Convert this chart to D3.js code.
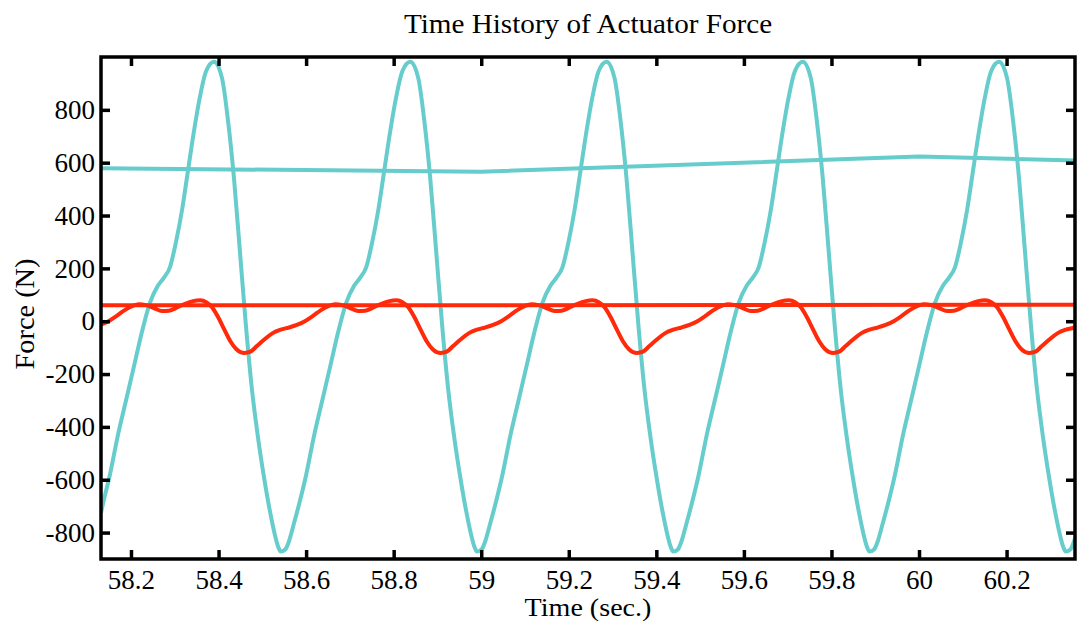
<!DOCTYPE html>
<html>
<head>
<meta charset="utf-8">
<script src="https://cdn.jsdelivr.net/npm/d3@7"></script>
<style>
  html, body { margin: 0; padding: 0; background: #fff; }
  svg { display: block; }
  svg text { font-family: "Liberation Serif", "Times New Roman", Times, serif; fill: #000; }
</style>
</head>
<body>
<svg id="chart" width="1078" height="621"></svg>
<script>
// Actuator force, command channel (cyan): time (s) and force (N)
const cyanTime = [
  58.1315, 58.1361, 58.1520, 58.1703, 58.1886, 58.2069, 58.2251, 58.2434, 58.2617, 58.2754,
  58.2891, 58.3028, 58.3165, 58.3302, 58.3439, 58.3576, 58.3713, 58.3896,
  58.4079, 58.4216, 58.4353, 58.4490, 58.4627, 58.4764, 58.4901, 58.5038, 58.5175, 58.5289,
  58.5358, 58.5420,
  58.5524, 58.5615, 58.5707, 58.5844, 58.6003, 58.6186, 58.6369, 58.6552, 58.6734, 58.6917,
  58.7100, 58.7237, 58.7374, 58.7511, 58.7648, 58.7785, 58.7922, 58.8059, 58.8196, 58.8379,
  58.8562, 58.8699, 58.8836, 58.8973, 58.9110, 58.9247, 58.9384, 58.9521, 58.9658, 58.9772,
  58.9841, 58.9903,
  59.0007, 59.0098, 59.0190, 59.0327, 59.0486, 59.0669, 59.0852, 59.1035, 59.1217, 59.1400,
  59.1583, 59.1720, 59.1857, 59.1994, 59.2131, 59.2268, 59.2405, 59.2542, 59.2679, 59.2862,
  59.3045, 59.3182, 59.3319, 59.3456, 59.3593, 59.3730, 59.3867, 59.4004, 59.4141, 59.4255,
  59.4324, 59.4386,
  59.4490, 59.4581, 59.4673, 59.4810, 59.4969, 59.5152, 59.5335, 59.5518, 59.5700, 59.5883,
  59.6066, 59.6203, 59.6340, 59.6477, 59.6614, 59.6751, 59.6888, 59.7025, 59.7162, 59.7345,
  59.7528, 59.7665, 59.7802, 59.7939, 59.8076, 59.8213, 59.8350, 59.8487, 59.8624, 59.8738,
  59.8807, 59.8869,
  59.8973, 59.9064, 59.9156, 59.9293, 59.9452, 59.9635, 59.9818, 60.0001, 60.0183, 60.0366,
  60.0549, 60.0686, 60.0823, 60.0960, 60.1097, 60.1234, 60.1371, 60.1508, 60.1645, 60.1828,
  60.2011, 60.2148, 60.2285, 60.2422, 60.2559, 60.2696, 60.2833, 60.2970, 60.3107, 60.3221,
  60.3290, 60.3352,
  60.3456, 60.3547, 60.3563
];
const cyanForce = [
  -725, -690, -580, -430, -300, -170, -40, 70, 135, 165,
  205, 300, 420, 570, 720, 850, 945, 982,
  920, 760, 540, 260, -20, -260, -440, -590, -720, -810,
  -852, -872,
  -864, -830, -775, -690, -580, -430, -300, -170, -40, 70,
  135, 165, 205, 300, 420, 570, 720, 850, 945, 982,
  920, 760, 540, 260, -20, -260, -440, -590, -720, -810,
  -852, -872,
  -864, -830, -775, -690, -580, -430, -300, -170, -40, 70,
  135, 165, 205, 300, 420, 570, 720, 850, 945, 982,
  920, 760, 540, 260, -20, -260, -440, -590, -720, -810,
  -852, -872,
  -864, -830, -775, -690, -580, -430, -300, -170, -40, 70,
  135, 165, 205, 300, 420, 570, 720, 850, 945, 982,
  920, 760, 540, 260, -20, -260, -440, -590, -720, -810,
  -852, -872,
  -864, -830, -775, -690, -580, -430, -300, -170, -40, 70,
  135, 165, 205, 300, 420, 570, 720, 850, 945, 982,
  920, 760, 540, 260, -20, -260, -440, -590, -720, -810,
  -852, -872,
  -864, -830, -822
];

// Running RMS of the cyan channel
const cyanRmsTime  = [58.1315, 59.0, 60.0, 60.3563];
const cyanRmsForce = [579, 566, 623, 608];

// Actuator force, response channel (red)
const redTime = [
  58.1315, 58.1489, 58.1673, 58.1857, 58.2041, 58.2179, 58.2340, 58.2523, 58.2708, 58.2869,
  58.3053, 58.3236, 58.3420, 58.3581, 58.3719, 58.3857, 58.3995, 58.4133, 58.4270, 58.4408,
  58.4501, 58.4593,
  58.4731, 58.4869, 58.5053, 58.5237, 58.5420, 58.5604, 58.5789, 58.5972, 58.6156, 58.6340,
  58.6524, 58.6662, 58.6823, 58.7006, 58.7191, 58.7352, 58.7536, 58.7719, 58.7903, 58.8064,
  58.8202, 58.8340, 58.8478, 58.8616, 58.8753, 58.8891, 58.8984, 58.9076,
  58.9214, 58.9352, 58.9536, 58.9720, 58.9903, 59.0087, 59.0272, 59.0455, 59.0639, 59.0823,
  59.1007, 59.1145, 59.1306, 59.1489, 59.1674, 59.1835, 59.2019, 59.2202, 59.2386, 59.2547,
  59.2685, 59.2823, 59.2961, 59.3099, 59.3236, 59.3374, 59.3467, 59.3559,
  59.3697, 59.3835, 59.4019, 59.4203, 59.4386, 59.4570, 59.4755, 59.4938, 59.5122, 59.5306,
  59.5490, 59.5628, 59.5789, 59.5972, 59.6157, 59.6318, 59.6502, 59.6685, 59.6869, 59.7030,
  59.7168, 59.7306, 59.7444, 59.7582, 59.7719, 59.7857, 59.7950, 59.8042,
  59.8180, 59.8318, 59.8502, 59.8686, 59.8869, 59.9053, 59.9238, 59.9421, 59.9605, 59.9789,
  59.9973, 60.0111, 60.0272, 60.0455, 60.0640, 60.0801, 60.0985, 60.1168, 60.1352, 60.1513,
  60.1651, 60.1789, 60.1927, 60.2065, 60.2202, 60.2340, 60.2433, 60.2525,
  60.2663, 60.2801, 60.2985, 60.3169, 60.3352, 60.3536, 60.3563
];
const redForce = [
  -13, 0, 20, 42, 58, 64, 61, 50, 39, 40,
  52, 66, 76, 79, 72, 52, 14, -32, -76, -106,
  -117, -120,
  -115, -95, -68, -45, -32, -24, -14, 0, 20, 42,
  58, 64, 61, 50, 39, 40, 52, 66, 76, 79,
  72, 52, 14, -32, -76, -106, -117, -120,
  -115, -95, -68, -45, -32, -24, -14, 0, 20, 42,
  58, 64, 61, 50, 39, 40, 52, 66, 76, 79,
  72, 52, 14, -32, -76, -106, -117, -120,
  -115, -95, -68, -45, -32, -24, -14, 0, 20, 42,
  58, 64, 61, 50, 39, 40, 52, 66, 76, 79,
  72, 52, 14, -32, -76, -106, -117, -120,
  -115, -95, -68, -45, -32, -24, -14, 0, 20, 42,
  58, 64, 61, 50, 39, 40, 52, 66, 76, 79,
  72, 52, 14, -32, -76, -106, -117, -120,
  -115, -95, -68, -45, -32, -24, -22
];

// Running RMS of the red channel
const redRmsTime  = [58.1315, 60.3563];
const redRmsForce = [60, 62];

// Axis ticks
const xTicks = [58.2, 58.4, 58.6, 58.8, 59.0, 59.2, 59.4, 59.6, 59.8, 60.0, 60.2];
const xTickLabels = ["58.2", "58.4", "58.6", "58.8", "59", "59.2", "59.4", "59.6", "59.8", "60", "60.2"];
const yTicks = [-800, -600, -400, -200, 0, 200, 400, 600, 800];
const yTickLabels = ["-800", "-600", "-400", "-200", "0", "200", "400", "600", "800"];

const chartTitle = "Time History of Actuator Force";
const xTitle = "Time (sec.)";
const yTitle = "Force (N)";

// ---- drawing ----
const serif = '"Liberation Serif", "Times New Roman", Times, serif';
const svg = d3.select("#chart");
const box = { left: 101, right: 1075, top: 57, bottom: 559 };

const x = d3.scaleLinear().domain([58.1315, 60.3563]).range([box.left, box.right]);
const y = d3.scaleLinear().domain([-900, 1000]).range([box.bottom, box.top]);

const zip = (ts, vs) => ts.map((t, i) => [t, vs[i]]);

svg.append("defs").append("clipPath").attr("id", "plotClip")
  .append("rect")
  .attr("x", box.left).attr("y", box.top)
  .attr("width", box.right - box.left).attr("height", box.bottom - box.top);

const plot = svg.append("g").attr("clip-path", "url(#plotClip)");

const smooth = d3.line().x(d => x(d[0])).y(d => y(d[1])).curve(d3.curveMonotoneX);
const straight = d3.line().x(d => x(d[0])).y(d => y(d[1]));

const cyan = "#66cccc";
const red = "#ff2a0a";
const lw = 4;

plot.append("path").datum(zip(cyanRmsTime, cyanRmsForce))
  .attr("d", straight).attr("fill", "none").attr("stroke", cyan).attr("stroke-width", lw);
plot.append("path").datum(zip(cyanTime, cyanForce))
  .attr("d", smooth).attr("fill", "none").attr("stroke", cyan).attr("stroke-width", lw)
  .attr("stroke-linejoin", "round");
plot.append("path").datum(zip(redRmsTime, redRmsForce))
  .attr("d", straight).attr("fill", "none").attr("stroke", red).attr("stroke-width", lw);
plot.append("path").datum(zip(redTime, redForce))
  .attr("d", smooth).attr("fill", "none").attr("stroke", red).attr("stroke-width", lw)
  .attr("stroke-linejoin", "round");

// Axes: ticks point inward on all four sides
const tickLen = 9;
const fmtX = d => xTickLabels[xTicks.indexOf(d)];
const fmtY = d => yTickLabels[yTicks.indexOf(d)];

const gx = svg.append("g").attr("transform", `translate(0,${box.bottom})`)
  .call(d3.axisBottom(x).tickValues(xTicks).tickFormat(fmtX).tickSize(-tickLen).tickPadding(11));
const gxTop = svg.append("g").attr("transform", `translate(0,${box.top})`)
  .call(d3.axisTop(x).tickValues(xTicks).tickFormat("").tickSize(-tickLen));
const gy = svg.append("g").attr("transform", `translate(${box.left},0)`)
  .call(d3.axisLeft(y).tickValues(yTicks).tickFormat(fmtY).tickSize(-tickLen).tickPadding(6));
const gyRight = svg.append("g").attr("transform", `translate(${box.right},0)`)
  .call(d3.axisRight(y).tickValues(yTicks).tickFormat("").tickSize(-tickLen));

[gx, gxTop, gy, gyRight].forEach(g => {
  g.attr("font-family", serif).attr("font-size", 27);
  g.select(".domain").remove();
  g.selectAll(".tick line").attr("stroke", "#000").attr("stroke-width", 3.5);
  g.selectAll(".tick text")
    .attr("font-family", serif)
    .style("font-family", serif)
    .style("font-size", "27px").attr("fill", "#000");
});

// Frame
svg.append("rect")
  .attr("x", box.left).attr("y", box.top)
  .attr("width", box.right - box.left).attr("height", box.bottom - box.top)
  .attr("fill", "none").attr("stroke", "#000").attr("stroke-width", 3.5);

// Titles (slightly widened serif face)
const cx = (box.left + box.right) / 2;
svg.append("text")
  .attr("transform", `translate(${cx},33) scale(1.08,1)`)
  .attr("text-anchor", "middle").style("font-family", serif).style("font-size", "27px")
  .text(chartTitle);
svg.append("text")
  .attr("transform", `translate(${cx},616) scale(1.08,1)`)
  .attr("text-anchor", "middle").style("font-family", serif).style("font-size", "26px")
  .text(xTitle);
svg.append("text")
  .attr("transform", `translate(34,314) rotate(-90) scale(1.05,1)`)
  .attr("text-anchor", "middle").style("font-family", serif).style("font-size", "27px")
  .text(yTitle);
</script>
</body>
</html>
